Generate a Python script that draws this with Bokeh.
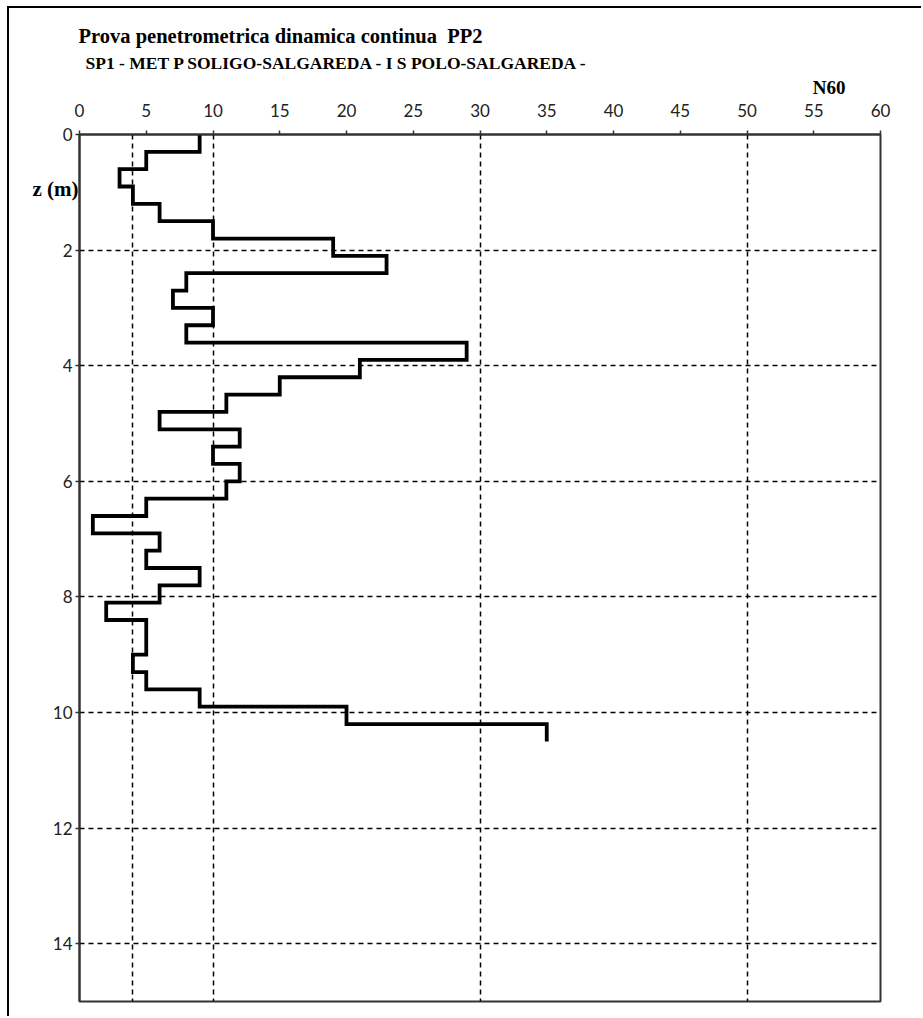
from bokeh.plotting import figure
from bokeh.models import Range1d, FixedTicker, Title, LinearAxis
from bokeh.embed import file_html
from bokeh.resources import INLINE

# ---- data ----
depth_bounds = [0.0, 0.3, 0.6, 0.9, 1.2, 1.5, 1.8, 2.1, 2.4, 2.7, 3.0, 3.3, 3.6,
                3.9, 4.2, 4.5, 4.8, 5.1, 5.4, 5.7, 6.0, 6.3, 6.6, 6.9, 7.2, 7.5,
                7.8, 8.1, 8.4, 8.7, 9.0, 9.3, 9.6, 9.9, 10.2, 10.5]
n60 = [9, 5, 3, 4, 6, 10, 19, 23, 8, 7, 10, 8, 29, 21, 15, 11, 6, 12, 10, 12,
       11, 5, 1, 6, 5, 9, 6, 2, 5, 5, 4, 5, 9, 20, 35]
x_ticks = [0, 5, 10, 15, 20, 25, 30, 35, 40, 45, 50, 55, 60]
y_ticks = [0, 2, 4, 6, 8, 10, 12, 14]
class_bounds = [4, 10, 30, 50]
z_label_depth = [0.95]

title_text = "Prova penetrometrica dinamica continua\u00a0 PP2"
subtitle_text = "SP1 - MET P SOLIGO-SALGAREDA - I S POLO-SALGAREDA -"

# step profile
xs, ys = [], []
for i, v in enumerate(n60):
    xs += [v, v]
    ys += [depth_bounds[i], depth_bounds[i + 1]]

p = figure(width=914, height=1010,
           x_range=Range1d(0, 60), y_range=Range1d(15, 0),
           x_axis_location="above",
           output_backend="svg", toolbar_location=None,
           min_border_left=70, min_border_right=43,
           min_border_top=126, min_border_bottom=17)
p.styles = {"border-left": "2.5px solid black", "border-top": "2.5px solid black",
            "margin-left": "7px", "margin-top": "6px"}
p.background_fill_color = "white"
p.border_fill_color = "white"
p.outline_line_color = "#333333"
p.outline_line_width = 2

for ax in (p.xaxis, p.yaxis):
    ax.axis_line_color = "#333333"
    ax.axis_line_width = 2
    ax.major_tick_line_color = "#333333"
    ax.major_tick_line_width = 1.5
    ax.major_tick_in = 0
    ax.major_tick_out = 4
    ax.minor_tick_line_color = None
    ax.major_label_text_font = "Lato"
    ax.major_label_text_font_size = "17px"
    ax.major_label_text_color = "#222222"

p.xaxis.ticker = FixedTicker(ticks=x_ticks)
p.yaxis.ticker = FixedTicker(ticks=y_ticks)
p.xaxis.major_label_standoff = 14
p.yaxis.major_label_standoff = 3

# "z (m)" label as an extra left axis with one labelled tick
zaxis = LinearAxis(ticker=FixedTicker(ticks=z_label_depth),
                   major_label_overrides={z_label_depth[0]: "z (m)"},
                   axis_line_color=None, major_tick_line_color=None,
                   minor_tick_line_color=None, major_tick_out=0, major_tick_in=0,
                   major_label_standoff=-29,
                   major_label_text_font="Liberation Serif",
                   major_label_text_font_style="bold",
                   major_label_text_font_size="21px",
                   major_label_text_color="black")
p.add_layout(zaxis, "left")

p.xgrid.ticker = FixedTicker(ticks=class_bounds)
for g in (p.xgrid, p.ygrid):
    g.grid_line_color = "black"
    g.grid_line_width = 1.5
    g.grid_line_dash = "5 4"

p.line(xs, ys, line_color="black", line_width=3.8, line_join="miter")

# titles, stacked outward from the top axis
p.add_layout(Title(text="N60", align="right", offset=35, standoff=5,
                   text_font="Liberation Serif", text_font_style="bold",
                   text_font_size="19px", text_color="black"), "above")
p.add_layout(Title(text=subtitle_text, align="left", offset=6, standoff=0,
                   text_font="Liberation Serif", text_font_style="bold",
                   text_font_size="17.5px", text_color="black"), "above")
p.add_layout(Title(text=title_text, align="left", offset=-1, standoff=8,
                   text_font="Liberation Serif", text_font_style="bold",
                   text_font_size="20.5px", text_color="black"), "above")

open("out.html", "w").write(file_html(p, INLINE))
